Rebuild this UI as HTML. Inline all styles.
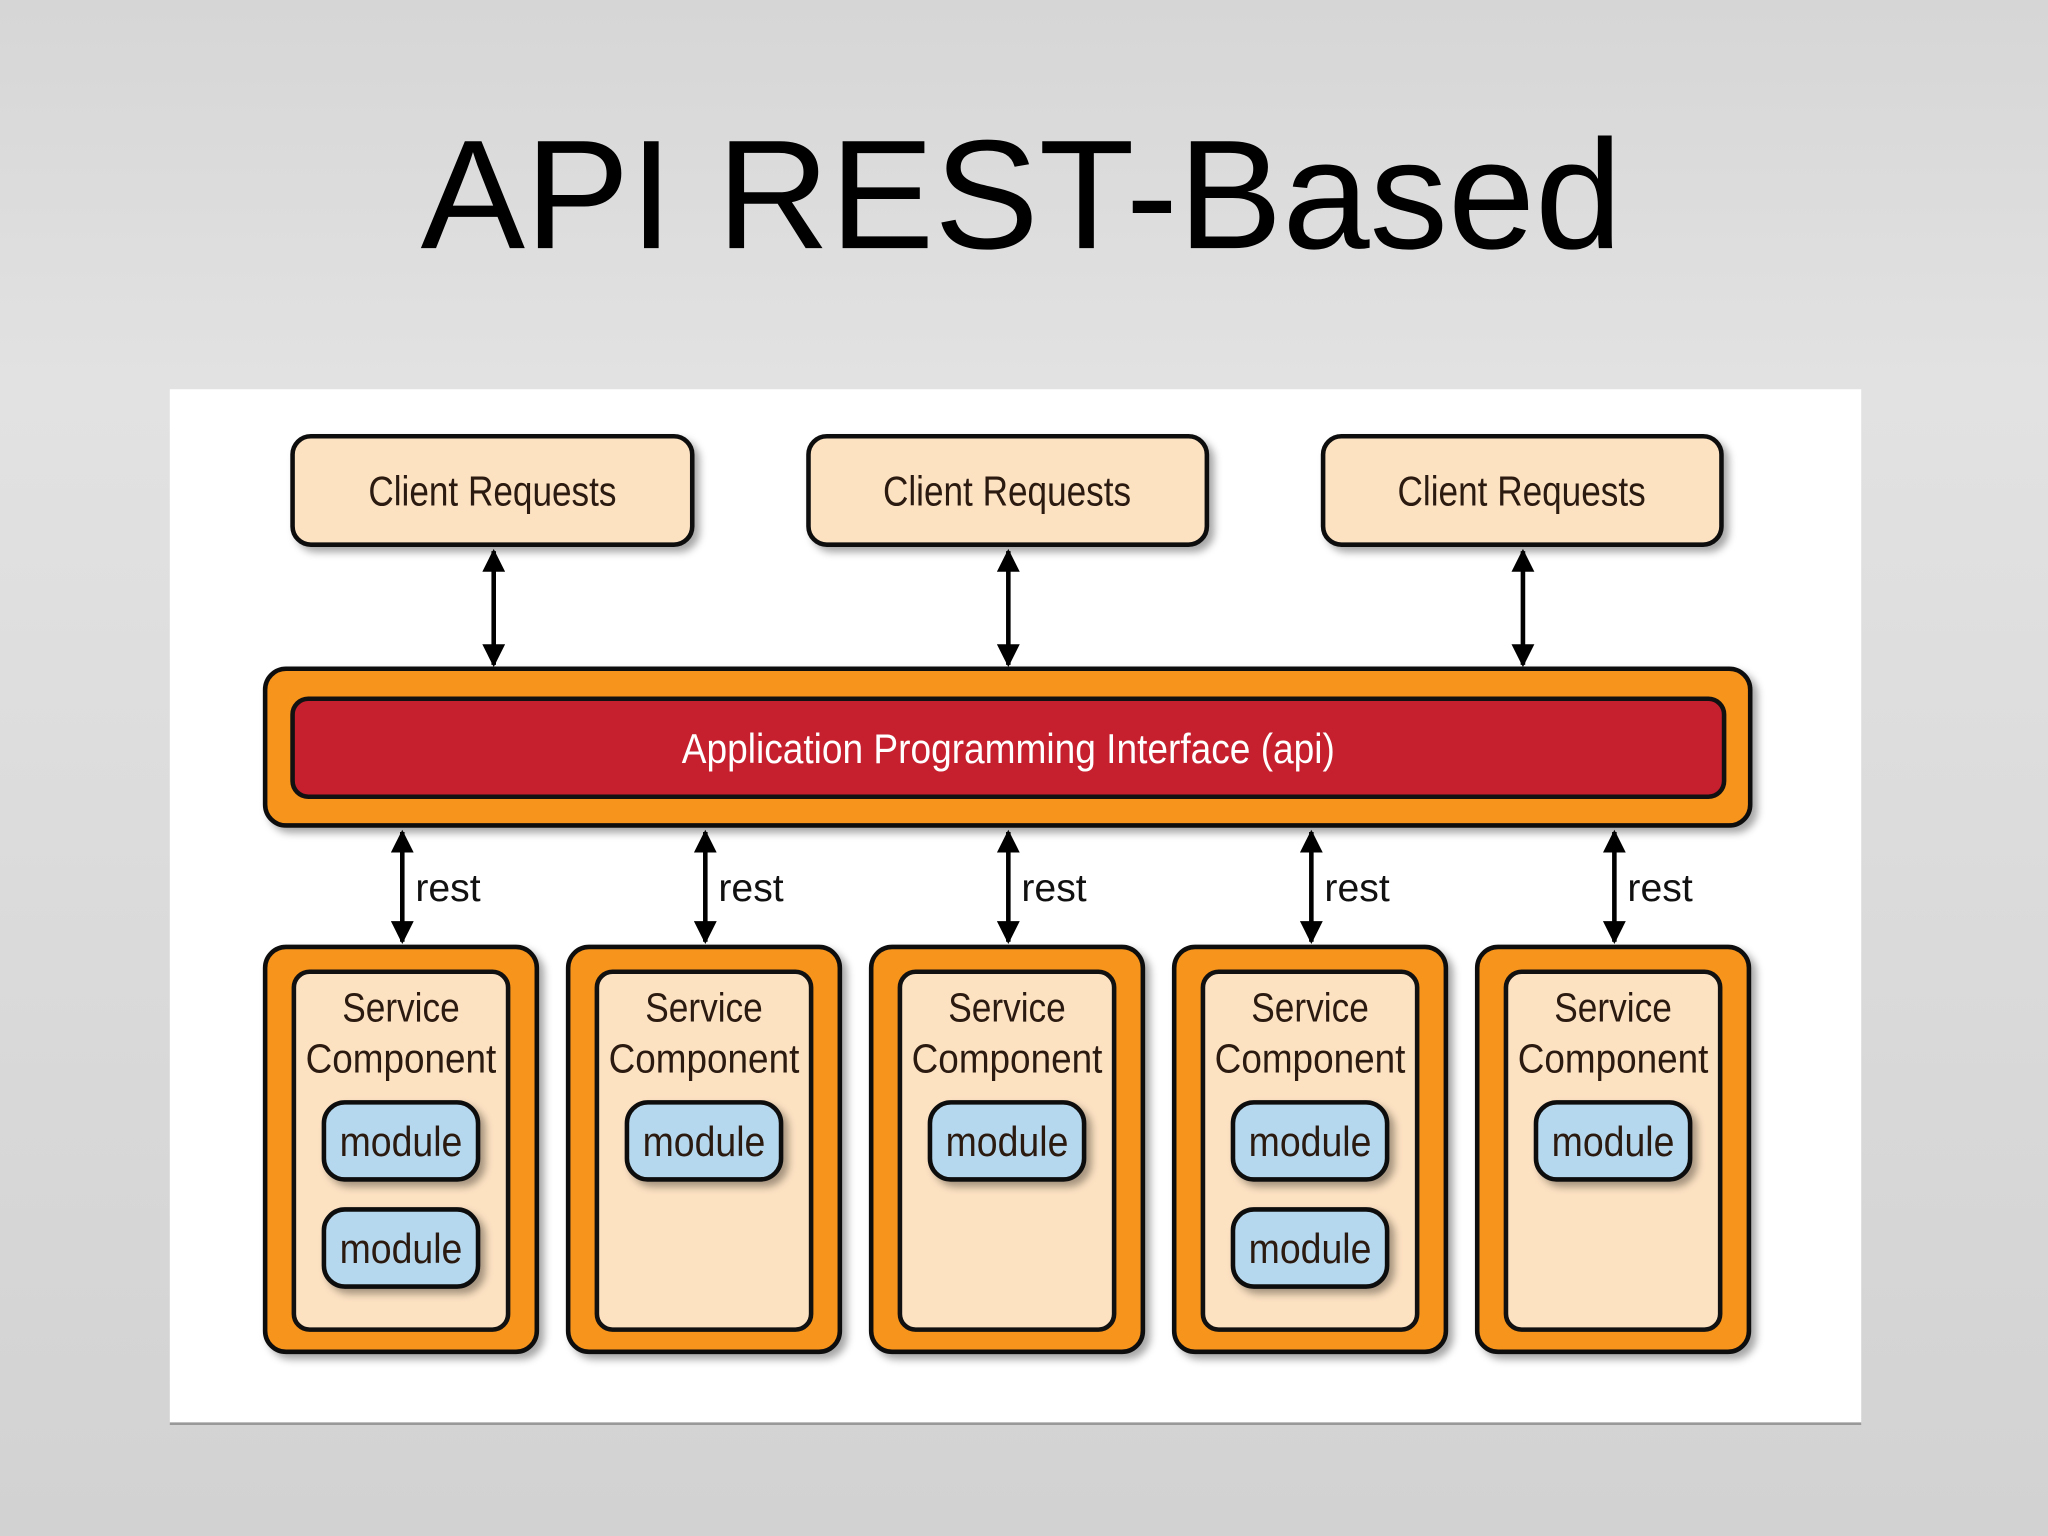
<!DOCTYPE html>
<html><head><meta charset="utf-8"><style>
html,body{margin:0;padding:0;width:2048px;height:1536px;overflow:hidden;background:#dcdcdc}
svg{display:block}
</style></head><body>
<svg width="2048" height="1536" viewBox="0 0 1568 1176" xmlns="http://www.w3.org/2000/svg">
<defs>
<linearGradient id="bg" x1="0" y1="0" x2="0" y2="1">
<stop offset="0" stop-color="#d6d6d6"/><stop offset="0.25" stop-color="#e2e2e2"/><stop offset="1" stop-color="#d2d2d2"/>
</linearGradient>
<filter id="sh" x="-10%" y="-10%" width="130%" height="130%"><feDropShadow dx="4" dy="4" stdDeviation="3" flood-color="#000" flood-opacity="0.35"/></filter>
<marker id="ah" viewBox="0 0 10 10" refX="9" refY="5" markerWidth="5" markerHeight="5" orient="auto-start-reverse"><path d="M0,0 L10,5 L0,10 z" fill="#000"/></marker>
</defs>
<rect width="1568" height="1176" fill="url(#bg)"/>
<text x="782" y="190" text-anchor="middle" font-family="Liberation Sans, sans-serif" font-size="119" textLength="920" lengthAdjust="spacingAndGlyphs" fill="#000">API REST-Based</text>
<rect x="130" y="298" width="1295" height="792" fill="#fff"/>
<line x1="130" y1="1090" x2="1425" y2="1090" stroke="#999" stroke-width="2"/>
<g font-family="Liberation Sans Narrow, Liberation Sans, sans-serif" fill="#2a1a10">
<!-- client boxes -->
<g filter="url(#sh)" fill="#fde2c2" stroke="#111" stroke-width="3.5">
<rect x="224" y="334" width="306" height="83" rx="14"/>
<rect x="619" y="334" width="305" height="83" rx="14"/>
<rect x="1013" y="334" width="305" height="83" rx="14"/>
</g>
<g font-size="32" text-anchor="middle">
<text x="377" y="387" textLength="190" lengthAdjust="spacingAndGlyphs">Client Requests</text>
<text x="771" y="387" textLength="190" lengthAdjust="spacingAndGlyphs">Client Requests</text>
<text x="1165" y="387" textLength="190" lengthAdjust="spacingAndGlyphs">Client Requests</text>
</g>
<g stroke="#000" stroke-width="3.5" marker-start="url(#ah)" marker-end="url(#ah)">
<line x1="378" y1="422" x2="378" y2="509"/>
<line x1="772" y1="422" x2="772" y2="509"/>
<line x1="1166" y1="422" x2="1166" y2="509"/>
</g>
<!-- API -->
<rect x="203" y="512" width="1137" height="120" rx="16" fill="#f7941d" stroke="#111" stroke-width="3.5" filter="url(#sh)"/>
<rect x="224" y="535" width="1096" height="75" rx="12" fill="#c6202e" stroke="#111" stroke-width="3.5"/>
<text x="772" y="584" text-anchor="middle" font-size="32" fill="#fff" textLength="500" lengthAdjust="spacingAndGlyphs">Application Programming Interface (api)</text>
<!-- rest arrows -->
<g stroke="#000" stroke-width="3.5" marker-start="url(#ah)" marker-end="url(#ah)">
<line x1="308" y1="637" x2="308" y2="721"/>
<line x1="540" y1="637" x2="540" y2="721"/>
<line x1="772" y1="637" x2="772" y2="721"/>
<line x1="1004" y1="637" x2="1004" y2="721"/>
<line x1="1236" y1="637" x2="1236" y2="721"/>
</g>
<g font-size="30" fill="#111">
<text x="318" y="690">rest</text><text x="550" y="690">rest</text><text x="782" y="690">rest</text><text x="1014" y="690">rest</text><text x="1246" y="690">rest</text>
</g>
<!-- services -->
<g id="svc">
<g filter="url(#sh)"><rect x="203" y="725" width="208" height="310" rx="16" fill="#f7941d" stroke="#111" stroke-width="3.5"/></g>
<rect x="225" y="744" width="164" height="274" rx="12" fill="#fde2c2" stroke="#111" stroke-width="3.5"/>
<text x="307" y="782" text-anchor="middle" font-size="31" textLength="90" lengthAdjust="spacingAndGlyphs">Service</text>
<text x="307" y="821" text-anchor="middle" font-size="31" textLength="146" lengthAdjust="spacingAndGlyphs">Component</text>
</g>
<use href="#svc" x="232"/><use href="#svc" x="464"/><use href="#svc" x="696"/><use href="#svc" x="928"/>
<g id="mod">
<rect x="248" y="844" width="118" height="59" rx="16" fill="#b6d8ee" stroke="#111" stroke-width="3.5" filter="url(#sh)"/>
<text x="307" y="885" text-anchor="middle" font-size="32" textLength="94" lengthAdjust="spacingAndGlyphs">module</text>
</g>
<use href="#mod" y="82"/>
<use href="#mod" x="232"/><use href="#mod" x="464"/>
<use href="#mod" x="696"/><use href="#mod" x="696" y="82"/>
<use href="#mod" x="928"/>
</g>
</svg>
</body></html>
